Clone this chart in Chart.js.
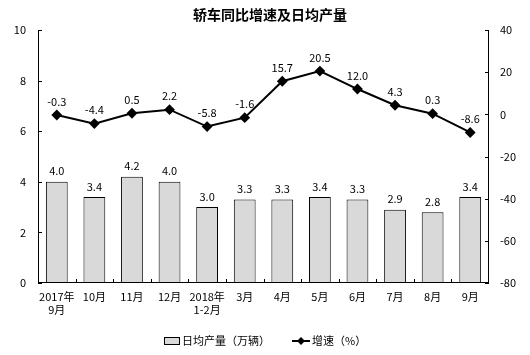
<!DOCTYPE html>
<html><head><meta charset="utf-8">
<script src="https://cdn.jsdelivr.net/npm/chart.js@4/dist/chart.umd.min.js"></script>
<style>html,body{margin:0;padding:0;background:#fff}#wrap{width:530px;height:355px}</style>
</head><body><div id="wrap"><canvas id="c" width="530" height="355"></canvas></div>
<script>
const categories = [["2017年","9月"],"10月","11月","12月",["2018年","1-2月"],"3月","4月","5月","6月","7月","8月","9月"];
const dailyOutput = [4.0,3.4,4.2,4.0,3.0,3.3,3.3,3.4,3.3,2.9,2.8,3.4];
const growthRate = [-0.3,-4.4,0.5,2.2,-5.8,-1.6,15.7,20.5,12.0,4.3,0.3,-8.6];
const titleText = "轿车同比增速及日均产量";
const barLegend = "日均产量（万辆）";
const lineLegend = "增速（%）";
const FONT = "'Noto Sans CJK SC', 'DejaVu Sans', sans-serif";

const drawExtras = {
  id: 'extras',
  afterDatasetsDraw(chart) {
    const ctx = chart.ctx;
    const ca = chart.chartArea;
    const y = chart.scales.y, y1 = chart.scales.y1;
    ctx.save();
    ctx.strokeStyle = '#000'; ctx.lineWidth = 1;
    ctx.beginPath();
    ctx.moveTo(Math.round(ca.left)+0.5, ca.top); ctx.lineTo(Math.round(ca.left)+0.5, ca.bottom);
    ctx.moveTo(Math.round(ca.right)-0.5, ca.top); ctx.lineTo(Math.round(ca.right)-0.5, ca.bottom);
    ctx.moveTo(ca.left, Math.round(ca.bottom)-0.5); ctx.lineTo(ca.right, Math.round(ca.bottom)-0.5);
    y.ticks.forEach(t => { const p = Math.round(y.getPixelForValue(t.value))+0.5; ctx.moveTo(ca.left, p); ctx.lineTo(ca.left+4, p); });
    y1.ticks.forEach(t => { const p = Math.round(y1.getPixelForValue(t.value))+0.5; ctx.moveTo(ca.right, p); ctx.lineTo(ca.right-4, p); });
    const n = categories.length;
    const w = (ca.right - ca.left) / n;
    for (let i = 1; i < n; i++) { const p = Math.round(ca.left + i*w)+0.5; ctx.moveTo(p, ca.bottom); ctx.lineTo(p, ca.bottom-4); }
    ctx.stroke();
    ctx.fillStyle = '#000';
    ctx.font = '11px ' + FONT;
    ctx.textAlign = 'center'; ctx.textBaseline = 'bottom';
    chart.getDatasetMeta(0).data.forEach((b, i) => { ctx.fillText(dailyOutput[i].toFixed(1), b.x, b.y - 5); });
    chart.getDatasetMeta(1).data.forEach((pt, i) => { ctx.fillText(growthRate[i].toFixed(1), pt.x, pt.y - 8); });
    ctx.font = 'bold 14px ' + FONT;
    ctx.textBaseline = 'middle';
    ctx.fillText(titleText, 270, 15);
    const ly = 341;
    ctx.fillStyle = '#d9d9d9'; ctx.fillRect(164, ly-4, 16, 8);
    ctx.strokeStyle = '#000'; ctx.strokeRect(164.5, ly-3.5, 15, 7);
    ctx.fillStyle = '#000'; ctx.font = '11px ' + FONT; ctx.textAlign = 'left';
    ctx.fillText(barLegend, 182, ly);
    ctx.lineWidth = 2; ctx.beginPath(); ctx.moveTo(292, ly); ctx.lineTo(310, ly); ctx.stroke();
    ctx.beginPath(); ctx.moveTo(301, ly-4); ctx.lineTo(305, ly); ctx.lineTo(301, ly+4); ctx.lineTo(297, ly); ctx.closePath(); ctx.fill();
    ctx.fillText(lineLegend, 312, ly);
    ctx.restore();
  }
};

new Chart(document.getElementById('c'), {
  data: {
    labels: categories,
    datasets: [
      { type: 'bar', label: barLegend, data: dailyOutput, yAxisID: 'y', backgroundColor: '#d9d9d9', borderColor: '#000', borderWidth: 1, barPercentage: 0.58, categoryPercentage: 1.0, order: 2 },
      { type: 'line', label: lineLegend, data: growthRate, yAxisID: 'y1', borderColor: '#000', backgroundColor: '#000', borderWidth: 2, pointStyle: 'rectRot', pointRadius: 4, pointHoverRadius: 4, tension: 0, order: 1 }
    ]
  },
  options: {
    responsive: false, animation: false,
    layout: { padding: { top: 30, bottom: 37, left: 0, right: 0 } },
    plugins: { legend: { display: false }, title: { display: false }, tooltip: { enabled: false } },
    scales: {
      x: {
        grid: { display: false, drawTicks: false }, border: { display: false },
        ticks: { color: '#000', font: { family: FONT, size: 11 }, padding: 7, maxRotation: 0, autoSkip: false },
        afterFit(s) { s.height = 35; }
      },
      y: {
        position: 'left', min: 0, max: 10,
        grid: { display: false, drawTicks: false }, border: { display: false },
        ticks: { stepSize: 2, color: '#000', font: { family: FONT, size: 11 }, padding: 12 },
        afterFit(s) { s.width = 38; }
      },
      y1: {
        position: 'right', min: -80, max: 40,
        grid: { display: false, drawTicks: false }, border: { display: false },
        ticks: { stepSize: 20, color: '#000', font: { family: FONT, size: 11 }, padding: 11 },
        afterFit(s) { s.width = 41; }
      }
    }
  },
  plugins: [drawExtras]
});
</script></body></html>
